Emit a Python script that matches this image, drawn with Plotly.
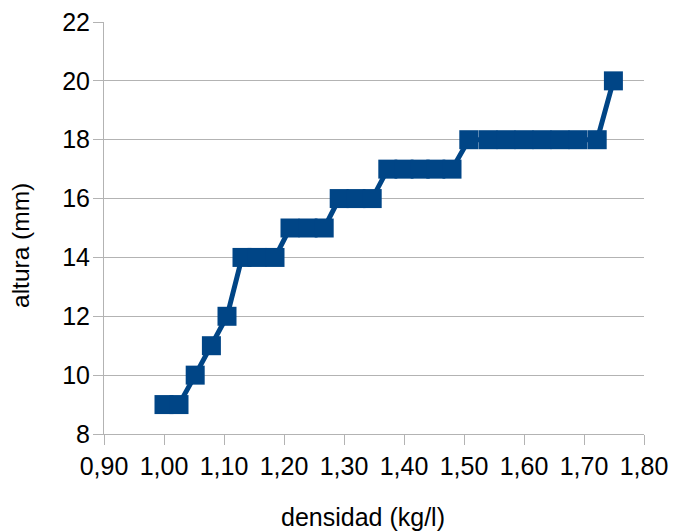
import plotly.graph_objects as go

densidad = [1.00, 1.025, 1.052, 1.079, 1.105,
            1.13, 1.155, 1.185,
            1.21, 1.24, 1.267,
            1.292, 1.32, 1.347,
            1.373, 1.40, 1.427, 1.453, 1.48,
            1.508, 1.54, 1.57, 1.60, 1.63, 1.66, 1.69, 1.722,
            1.749]
altura = [9, 9, 10, 11, 12,
          14, 14, 14,
          15, 15, 15,
          16, 16, 16,
          17, 17, 17, 17, 17,
          18, 18, 18, 18, 18, 18, 18, 18,
          20]

x_ticks = [0.9, 1.0, 1.1, 1.2, 1.3, 1.4, 1.5, 1.6, 1.7, 1.8]
y_ticks = [8, 10, 12, 14, 16, 18, 20, 22]
x_title = "densidad (kg/l)"
y_title = "altura (mm)"

color = "#004586"
fig = go.Figure(go.Scatter(
    x=densidad, y=altura, mode="lines+markers",
    line=dict(color=color, width=5),
    marker=dict(symbol="square", size=19, color=color, line=dict(width=0)),
    showlegend=False,
))

font = "Liberation Sans, Arial, sans-serif"
fig.update_layout(
    width=674, height=531,
    margin=dict(l=104, r=30, t=22, b=97),
    paper_bgcolor="white", plot_bgcolor="white",
    separators=",.",
    font=dict(family=font, size=24, color="#000000"),
    xaxis=dict(
        range=[0.9, 1.8], tickvals=x_ticks, tickformat=".2f",
        showgrid=False, zeroline=False, automargin=False,
        showline=True, linecolor="#b3b3b3", linewidth=1,
        ticks="outside", ticklen=10, tickcolor="#b3b3b3",
        tickfont=dict(size=25),
    ),
    yaxis=dict(
        range=[8, 22], tickvals=y_ticks,
        showgrid=True, gridcolor="#b3b3b3", gridwidth=1,
        zeroline=False, automargin=False,
        showline=True, linecolor="#b3b3b3", linewidth=1,
        ticks="outside", ticklen=10, tickcolor="#b3b3b3",
        ticklabelstandoff=-2,
        tickfont=dict(size=25),
    ),
    annotations=[
        dict(text=x_title, xref="paper", yref="paper", x=0.4796, y=-0.2015,
             xanchor="center", yanchor="middle", showarrow=False,
             font=dict(size=25)),
        dict(text=y_title, xref="paper", yref="paper", x=-0.1556, y=0.4587,
             xanchor="center", yanchor="middle", showarrow=False,
             textangle=-90, font=dict(size=24.5)),
    ],
)

fig.write_html("out.html", config={"displayModeBar": False},
               post_script="document.body.style.margin='0';")
